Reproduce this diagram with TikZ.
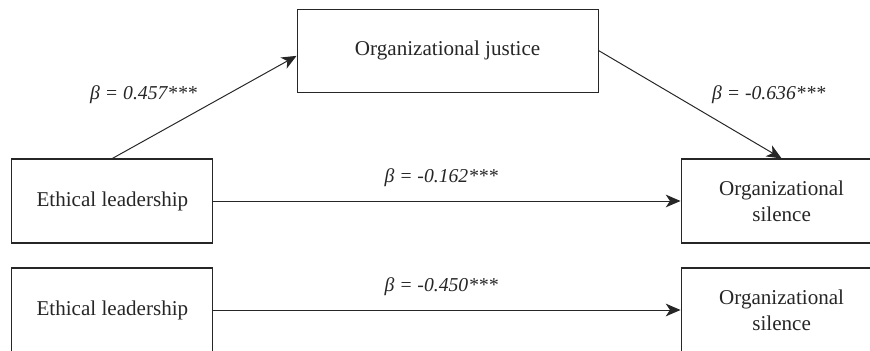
\documentclass[tikz,border=0pt]{standalone}
\usepackage{fontspec}
\setmainfont{Liberation Serif}
\usetikzlibrary{arrows.meta}
\tikzset{varbox/.style={draw, line width=0.8pt, minimum width=5.025cm,
        minimum height=2.1cm, inner sep=0pt, align=center,
        font=\fontsize{15}{18.4}\selectfont
    },
    link/.style={-{Stealth[length=10.5pt, width=9pt, inset=3pt]}, line width=0.7pt},
    coef/.style={inner sep=0pt, font=\fontsize{14}{17}\selectfont\itshape}
}

\begin{document}
\begin{tikzpicture}[color=black!85]
            \useasboundingbox (0,0) rectangle (21.75,8.775);
            \clip (0,0) rectangle (21.75,8.775);
            \node[varbox] (ethA) at (2.81, 3.75) {Ethical leadership};
            \node[varbox, minimum width=7.525cm, minimum height=2.075cm] (just) at (11.19, 7.51) {Organizational justice};
            \node[varbox] (silA) at (19.54, 3.75) {Organizational\\silence};
            \node[varbox] (ethB) at (2.81, 1.025) {Ethical leadership};
            \node[varbox] (silB) at (19.54, 1.025) {Organizational\\silence};
            \node[coef] (bA) at (3.59, 6.4) {β = 0.457***};
            \node[coef] (bB) at (19.22, 6.4) {β = -0.636***};
            \node[coef] (bC) at (11.03, 4.325) {β = -0.162***};
            \node[coef] (bD) at (11.03, 1.6) {β = -0.450***};
            \draw[link] (ethA.north) to (just.182);
            \draw[link] (just.east) to (silA.north);
            \draw[link] (ethA) to (silA);
            \draw[link] (ethB) to (silB);
        \end{tikzpicture}
\end{document}
